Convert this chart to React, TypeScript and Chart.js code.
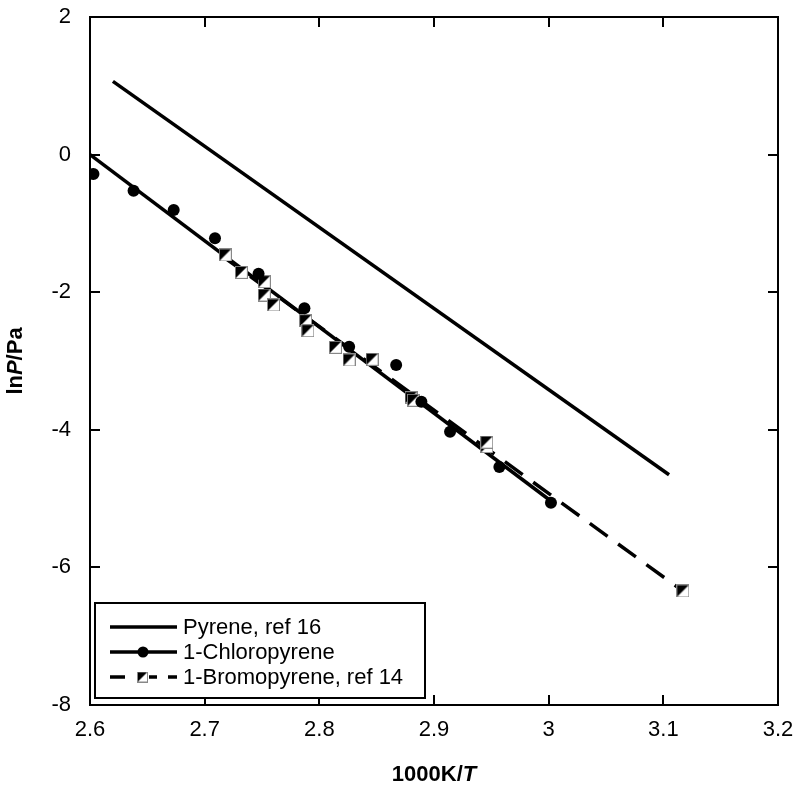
import React, { useEffect, useRef } from 'react';
import { Chart, registerables } from 'chart.js';

Chart.register(...registerables);

// ---- Data ----
const xTickValues = [2.6, 2.7, 2.8, 2.9, 3.0, 3.1, 3.2];
const yTickValues = [-8, -6, -4, -2, 0, 2];

const seriesNames = ['Pyrene, ref 16', '1-Chloropyrene', '1-Bromopyrene, ref 14'];

const pyreneX = [2.62, 3.105];
const pyreneY = [1.064, -4.653];

const chloroX = [2.603, 2.638, 2.673, 2.709, 2.747, 2.787, 2.826, 2.867, 2.889, 2.914, 2.957, 3.002];
const chloroY = [-0.282, -0.525, -0.805, -1.217, -1.731, -2.234, -2.792, -3.058, -3.592, -4.028, -4.541, -5.06];
const chloroFitX = [2.6, 3.004];
const chloroFitY = [0, -5.06];

const bromoX = [2.718, 2.732, 2.752, 2.752, 2.76, 2.788, 2.79, 2.814, 2.826, 2.846, 2.88, 2.882, 2.946, 2.946, 3.117];
const bromoY = [-1.459, -1.711, -1.847, -2.041, -2.186, -2.414, -2.56, -2.801, -2.985, -2.975, -3.533, -3.57, -4.245, -4.18, -6.343];
const bromoFitX = [2.715, 3.115];
const bromoFitY = [-1.47, -6.32];

const FONT = '"Liberation Sans", Arial, sans-serif';

const toPts = (xs: number[], ys: number[]) => xs.map((x, i) => ({ x, y: ys[i] }));

function makeHalfSquare(size: number): HTMLCanvasElement {
  const c = document.createElement('canvas');
  c.width = size;
  c.height = size;
  const g = c.getContext('2d')!;
  g.fillStyle = '#fff';
  g.fillRect(0, 0, size, size);
  g.fillStyle = '#000';
  g.beginPath();
  g.moveTo(0, 0);
  g.lineTo(size, 0);
  g.lineTo(0, size);
  g.closePath();
  g.fill();
  g.strokeStyle = '#888';
  g.lineWidth = 1;
  g.strokeRect(0.5, 0.5, size - 1, size - 1);
  return c;
}

function drawRich(
  ctx: CanvasRenderingContext2D,
  parts: { t: string; italic?: boolean }[],
  size: number
) {
  const fontOf = (it?: boolean) => `${it ? 'italic ' : ''}bold ${size}px ${FONT}`;
  let total = 0;
  for (const p of parts) {
    ctx.font = fontOf(p.italic);
    total += ctx.measureText(p.t).width;
  }
  let x = -total / 2;
  ctx.textBaseline = 'middle';
  ctx.textAlign = 'left';
  for (const p of parts) {
    ctx.font = fontOf(p.italic);
    ctx.fillText(p.t, x, 0);
    x += ctx.measureText(p.t).width;
  }
}

export default function App() {
  const ref = useRef<HTMLCanvasElement | null>(null);

  useEffect(() => {
    document.body.style.margin = '0';
    const canvas = ref.current;
    if (!canvas) return;

    const bigMarker = makeHalfSquare(13);
    const smallMarker = makeHalfSquare(11);

    const framePlugin = {
      id: 'framePlugin',
      afterDraw(chart: any) {
        const ctx: CanvasRenderingContext2D = chart.ctx;
        const { left, right, top, bottom } = chart.chartArea;
        const xs = chart.scales.x;
        const ys = chart.scales.y;
        ctx.save();
        ctx.strokeStyle = '#000';
        ctx.lineWidth = 2;
        ctx.strokeRect(left, top, right - left, bottom - top);
        const tl = 10;
        ctx.beginPath();
        for (const v of xTickValues) {
          const px = Math.round(xs.getPixelForValue(v));
          ctx.moveTo(px, bottom);
          ctx.lineTo(px, bottom - tl);
          ctx.moveTo(px, top);
          ctx.lineTo(px, top + tl);
        }
        for (const v of yTickValues) {
          const py = Math.round(ys.getPixelForValue(v));
          ctx.moveTo(left, py);
          ctx.lineTo(left + tl, py);
          ctx.moveTo(right, py);
          ctx.lineTo(right - tl, py);
        }
        ctx.stroke();

        // axis titles
        ctx.fillStyle = '#000';
        ctx.save();
        ctx.translate((left + right) / 2, 775);
        drawRich(ctx, [{ t: '1000K/' }, { t: 'T', italic: true }], 22);
        ctx.restore();
        ctx.save();
        ctx.translate(16, (top + bottom) / 2);
        ctx.rotate(-Math.PI / 2);
        drawRich(ctx, [{ t: 'ln' }, { t: 'P', italic: true }, { t: '/Pa' }], 22);
        ctx.restore();

        // legend
        const bx = 95, by = 603, bw = 330, bh = 95;
        ctx.fillStyle = '#fff';
        ctx.fillRect(bx, by, bw, bh);
        ctx.lineWidth = 2;
        ctx.strokeStyle = '#000';
        ctx.strokeRect(bx, by, bw, bh);
        const rows = [627, 652, 677];
        const lx0 = 110, lx1 = 177, tx = 183;
        ctx.lineWidth = 3.5;
        ctx.beginPath();
        ctx.moveTo(lx0, rows[0]);
        ctx.lineTo(lx1, rows[0]);
        ctx.stroke();
        ctx.beginPath();
        ctx.moveTo(lx0, rows[1]);
        ctx.lineTo(lx1, rows[1]);
        ctx.stroke();
        ctx.fillStyle = '#000';
        ctx.beginPath();
        ctx.arc(143, rows[1], 5.5, 0, Math.PI * 2);
        ctx.fill();
        ctx.beginPath();
        for (const [a, b] of [[110, 125], [149, 157], [168, 177]]) {
          ctx.moveTo(a, rows[2]);
          ctx.lineTo(b, rows[2]);
        }
        ctx.stroke();
        ctx.drawImage(smallMarker, 137, rows[2] - 5.5);

        ctx.fillStyle = '#000';
        ctx.font = `22px ${FONT}`;
        ctx.textAlign = 'left';
        ctx.textBaseline = 'middle';
        seriesNames.forEach((n, i) => ctx.fillText(n, tx, rows[i] + 1));
        ctx.restore();
      },
    };

    const tickFont = { family: FONT, size: 22 };

    const chart = new Chart(canvas, {
      type: 'scatter',
      data: {
        datasets: [
          {
            label: seriesNames[1],
            data: toPts(chloroX, chloroY),
            showLine: false,
            pointStyle: 'circle',
            pointRadius: 6,
            pointBackgroundColor: '#000',
            pointBorderWidth: 0,
            order: 0,
          },
          {
            label: seriesNames[2],
            data: toPts(bromoX, bromoY),
            showLine: false,
            pointStyle: bigMarker as any,
            pointRadius: 6,
            order: 1,
          },
          {
            label: 'pyrene fit',
            data: toPts(pyreneX, pyreneY),
            showLine: true,
            borderColor: '#000',
            borderWidth: 3.5,
            pointRadius: 0,
            order: 2,
          },
          {
            label: 'chloro fit',
            data: toPts(chloroFitX, chloroFitY),
            showLine: true,
            borderColor: '#000',
            borderWidth: 3.5,
            pointRadius: 0,
            order: 3,
          },
          {
            label: 'bromo fit',
            data: toPts(bromoFitX, bromoFitY),
            showLine: true,
            borderColor: '#000',
            borderWidth: 3.5,
            borderDash: [22, 13],
            pointRadius: 0,
            order: 4,
          },
        ],
      },
      options: {
        animation: false,
        responsive: false,
        maintainAspectRatio: false,
        layout: { padding: { top: 17, right: 22, left: 0, bottom: 0 } },
        plugins: {
          legend: { display: false },
          tooltip: { enabled: false },
        },
        scales: {
          x: {
            type: 'linear',
            min: 2.6,
            max: 3.2,
            afterBuildTicks: (s: any) => {
              s.ticks = xTickValues.map((v) => ({ value: v }));
            },
            afterFit: (s: any) => {
              s.height = 84;
              s.paddingLeft = 0;
              s.paddingRight = 0;
              s.paddingTop = 0;
              s.paddingBottom = 0;
            },
            grid: { display: false, drawTicks: false },
            border: { display: false },
            ticks: {
              font: tickFont,
              color: '#000',
              padding: 12,
              maxRotation: 0,
              autoSkip: false,
              callback: (v: any) => String(Math.round(Number(v) * 10) / 10),
            },
          },
          y: {
            type: 'linear',
            min: -8,
            max: 2,
            afterBuildTicks: (s: any) => {
              s.ticks = yTickValues.map((v) => ({ value: v }));
            },
            afterFit: (s: any) => {
              s.width = 90;
              s.paddingLeft = 0;
              s.paddingRight = 0;
              s.paddingTop = 0;
              s.paddingBottom = 0;
            },
            grid: { display: false, drawTicks: false },
            border: { display: false },
            ticks: {
              font: tickFont,
              color: '#000',
              padding: 19,
              autoSkip: false,
              callback: (v: any) => String(Math.round(Number(v))),
            },
          },
        },
      },
      plugins: [framePlugin],
    });

    return () => chart.destroy();
  }, []);

  return (
    <div style={{ width: 800, height: 789, background: '#fff' }}>
      <canvas ref={ref} width={800} height={789} style={{ display: 'block' }} />
    </div>
  );
}
